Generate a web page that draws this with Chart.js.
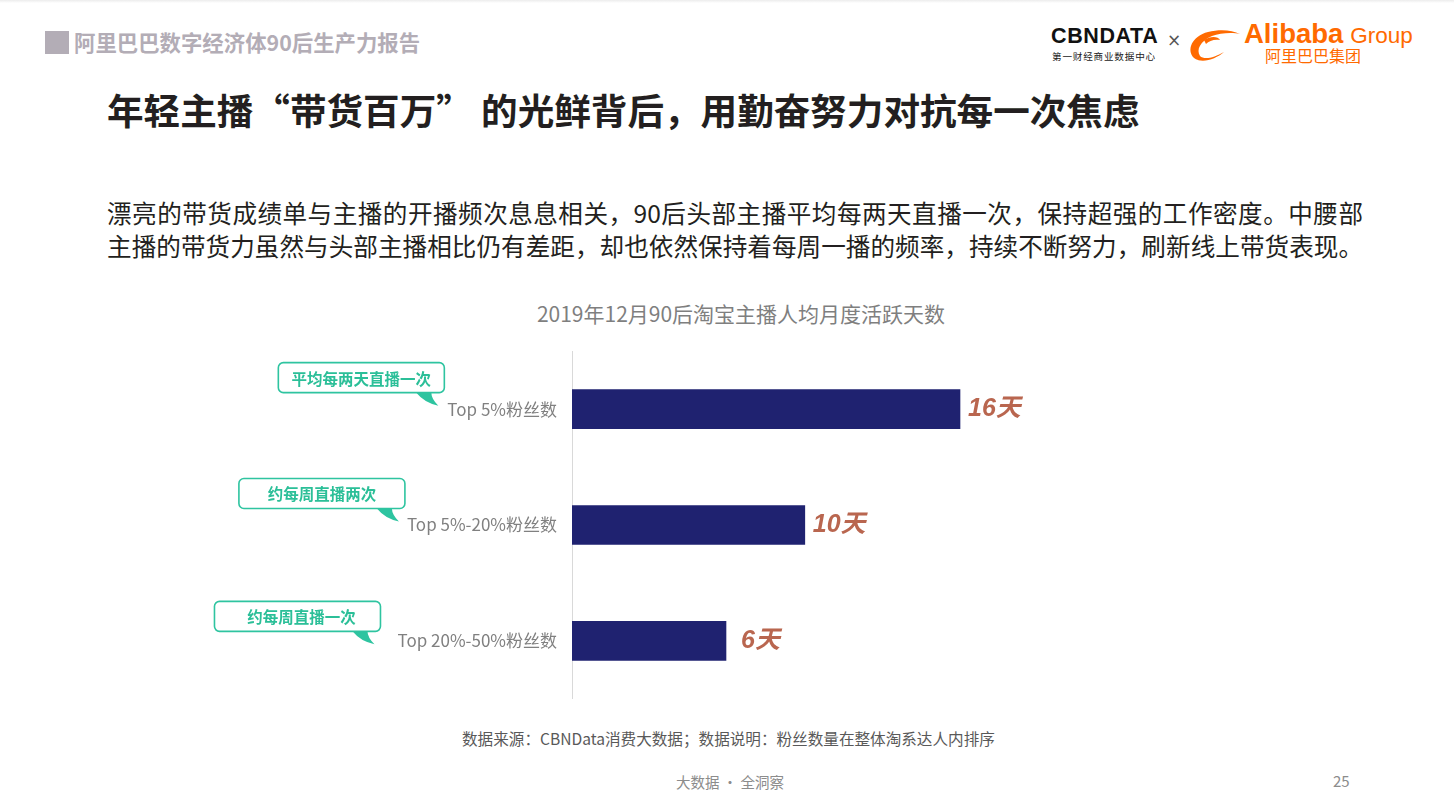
<!DOCTYPE html>
<html>
<head>
<meta charset="utf-8">
<script src="https://cdn.jsdelivr.net/npm/chart.js@4.4.1/dist/chart.umd.min.js"></script>
<style>
  html, body { margin: 0; padding: 0; background: #fff; }
  body { width: 1454px; height: 810px; position: relative; overflow: hidden;
         font-family: "Noto Sans CJK SC", "Noto Sans", sans-serif; }
  .abs { position: absolute; white-space: nowrap; }
  #topline { left: 0; top: 0; width: 1454px; height: 3px; background: linear-gradient(#ececec, #fff); }
  #hdrBox { left: 45px; top: 31px; width: 24px; height: 23px; background: #b3adb6; }
  #hdr { left: 74px; top: 28px; font-size: 21.4px; font-weight: bold; color: #b3adb6; line-height: 28px; }
  #title { left: 107px; top: 87px; font-size: 36.6px; font-weight: bold; color: #231f20; line-height: 46px; }
  .para { left: 107px; width: 1256px; font-size: 24.6px; color: #231f20; line-height: 33px;
          text-align: justify; text-align-last: justify; white-space: normal; }
  #chartTitle { left: 441px; width: 600px; top: 298px; text-align: center; font-size: 21px; color: #7f7f7f; line-height: 30px; }
  #source { left: 462px; top: 727px; font-size: 15.6px; color: #595959; line-height: 22px; }
  #slogan { left: 676px; top: 771px; font-size: 14.5px; color: #8c8c8c; line-height: 22px; }
  #page { left: 1333px; top: 770px; font-size: 15px; color: #8c8c8c; line-height: 22px; }
  #chartBox { left: 0; top: 326px; width: 1057px; height: 398px; }
  .cbn { left: 1051px; top: 23px; font-family: "Liberation Sans", Arial, sans-serif; font-weight: bold;
         font-size: 21.5px; letter-spacing: 0.6px; color: #111; line-height: 26px; }
  .cbnsub { left: 1052px; top: 49px; font-size: 9.6px; color: #222; letter-spacing: 0.8px; line-height: 14px; }
  .times { left: 1167px; top: 29px; font-size: 17px; color: #555; line-height: 22px; font-family: "DejaVu Sans", sans-serif; }
  .ali { left: 1244px; top: 19px; font-family: "Liberation Sans", Arial, sans-serif; color: #ff6a00; line-height: 30px; }
  .ali b { font-size: 27.5px; }
  .ali span { font-size: 22.5px; margin-left: 7px; }
  .alicn { left: 1265px; top: 45px; font-size: 16px; color: #ff6a00; line-height: 20px; }
</style>
</head>
<body>
<div class="abs" id="topline"></div>
<div class="abs" id="hdrBox"></div>
<div class="abs" id="hdr">阿里巴巴数字经济体90后生产力报告</div>

<div class="abs cbn">CBNDATA</div>
<div class="abs cbnsub">第一财经商业数据中心</div>
<div class="abs times">×</div>
<svg class="abs" style="left:1184px;top:24px" width="62" height="40" viewBox="0 0 62 40">
  <path d="M10 34 C2 26 8 12 24 8 C36 5 48 6 56 10 C48 8 36 9 28 12 C16 17 12 26 16 32 C20 36 30 34 40 28 C32 35 18 40 10 34 Z" fill="#ff6a00"/>
  <path d="M20 16 C26 12 34 12 36 16 C30 15 25 17 22 20 Z" fill="#ff6a00"/>
  <text x="14" y="38" font-size="5" fill="#ff6a00">®</text>
</svg>
<div class="abs ali"><b>Alibaba</b><span>Group</span></div>
<div class="abs alicn">阿里巴巴集团</div>

<div class="abs" id="title">年轻主播“带货百万” 的光鲜背后，用勤奋努力对抗每一次焦虑</div>
<div class="abs para" style="top:196px">漂亮的带货成绩单与主播的开播频次息息相关，90后头部主播平均每两天直播一次，保持超强的工作密度。中腰部</div>
<div class="abs para" style="top:229px">主播的带货力虽然与头部主播相比仍有差距，却也依然保持着每周一播的频率，持续不断努力，刷新线上带货表现。</div>

<div class="abs" id="chartTitle">2019年12月90后淘宝主播人均月度活跃天数</div>
<div class="abs" id="chartBox"><canvas id="daysChart"></canvas></div>

<div class="abs" id="source">数据来源：CBNData消费大数据；数据说明：粉丝数量在整体淘系达人内排序</div>
<div class="abs" id="slogan">大数据 · 全洞察</div>
<div class="abs" id="page">25</div>

<script>
// 数据
const categories = ['Top 5%粉丝数', 'Top 5%-20%粉丝数', 'Top 20%-50%粉丝数'];
const activeDays = [16, 9.6, 6.35];
const dayLabels = ['16天', '10天', '6天'];
const callouts = ['平均每两天直播一次', '约每周直播两次', '约每周直播一次'];

const tickFont = '17px "Noto Sans CJK SC", sans-serif';

// 画柱子末端的天数和左侧的气泡标注
const labelPlugin = {
    id: 'barLabels',
    afterDatasetsDraw(chart) {
        const ctx = chart.ctx;
        const meta = chart.getDatasetMeta(0);
        const yScale = chart.scales.y;
        const shift = [{dx: -3, dy: -16.5}, {dx: -2, dy: -16.5}, {dx: -17, dy: -9.5}];
        ctx.save();
        meta.data.forEach(function(bar, i) {
            // 天数
            ctx.font = 'italic bold 25px "Liberation Sans", Arial, "Noto Sans CJK SC", sans-serif';
            ctx.fillStyle = '#b9664f';
            ctx.textAlign = 'left';
            ctx.textBaseline = 'middle';
            ctx.fillText(dayLabels[i], bar.x + (i === 2 ? 15 : 8), bar.y);

            // 气泡
            ctx.font = tickFont;
            const labelLeft = yScale.right - 15 - ctx.measureText(categories[i]).width;
            const w = 166, h = 30;
            const right = labelLeft + shift[i].dx;
            const bottom = bar.y + shift[i].dy;
            const left = right - w, top = bottom - h;

            ctx.fillStyle = '#2ec4a0';
            ctx.beginPath();
            ctx.moveTo(right - 28, bottom);
            ctx.quadraticCurveTo(right - 20, bottom + 10, right - 6, bottom + 13);
            ctx.quadraticCurveTo(right - 13, bottom + 6, right - 13, bottom);
            ctx.closePath();
            ctx.fill();

            ctx.beginPath();
            ctx.roundRect(left, top, w, h, 5);
            ctx.fillStyle = '#fff';
            ctx.fill();
            ctx.lineWidth = 1.6;
            ctx.strokeStyle = '#2ec4a0';
            ctx.stroke();

            ctx.font = 'bold 15.5px "Noto Sans CJK SC", sans-serif';
            ctx.fillStyle = '#2bbf98';
            ctx.textAlign = 'center';
            ctx.fillText(callouts[i], left + w / 2 + (i === 2 ? 4 : 0), top + h / 2 + 1);
        });
        ctx.restore();
    }
};

document.addEventListener('DOMContentLoaded', function() {
    const daysCtx = document.getElementById('daysChart').getContext('2d');
    new Chart(daysCtx, {
        type: 'bar',
        data: {
            labels: categories,
            datasets: [{
                data: activeDays,
                backgroundColor: '#1f2270',
                borderWidth: 0,
                barThickness: 39
            }]
        },
        options: {
            indexAxis: 'y',
            responsive: true,
            maintainAspectRatio: false,
            animation: false,
            layout: { padding: 0 },
            plugins: {
                legend: { display: false },
                tooltip: { enabled: false }
            },
            scales: {
                x: {
                    display: false,
                    min: 0,
                    max: 20
                },
                y: {
                    afterFit: function(scale) { scale.width = 572; },
                    grid: { display: false, drawTicks: false },
                    border: { display: true, color: '#d9d9d9', width: 1 },
                    ticks: {
                        padding: 15,
                        color: '#808080',
                        font: { family: '"Noto Sans CJK SC", sans-serif', size: 17 }
                    }
                }
            }
        },
        plugins: [labelPlugin]
    });
});
</script>
</body>
</html>
